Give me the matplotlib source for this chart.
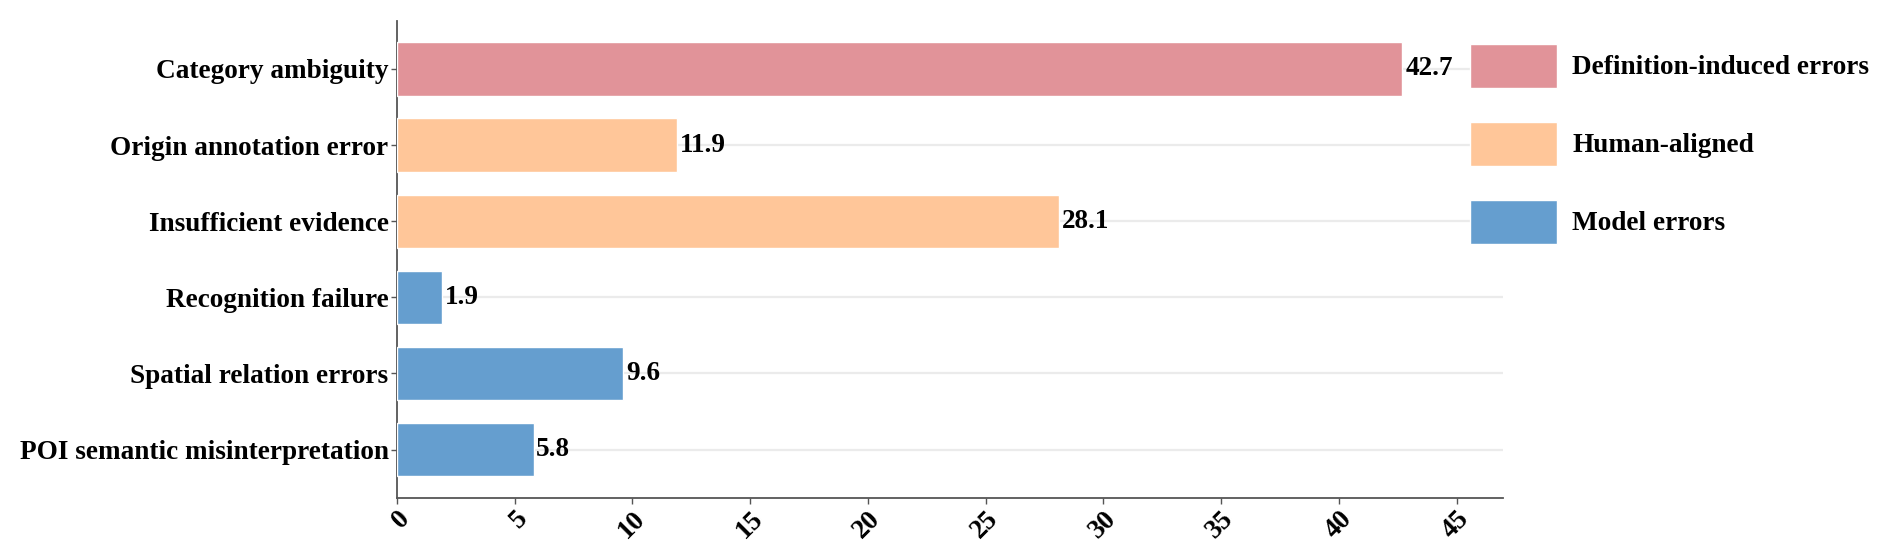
import matplotlib
matplotlib.use("Agg")
import matplotlib.pyplot as plt
from matplotlib.patches import Patch

categories = ["Category ambiguity", "Origin annotation error", "Insufficient evidence",
              "Recognition failure", "Spatial relation errors", "POI semantic misinterpretation"]
values = [42.7, 11.9, 28.1, 1.9, 9.6, 5.8]
groups = ["Definition-induced errors", "Human-aligned", "Human-aligned",
          "Model errors", "Model errors", "Model errors"]
group_names = ["Definition-induced errors", "Human-aligned", "Model errors"]
group_colors = {"Definition-induced errors": "#E19399",
                "Human-aligned": "#FFC699",
                "Model errors": "#659ECF"}
x_ticks = [0, 5, 10, 15, 20, 25, 30, 35, 40, 45]

plt.rcParams["font.family"] = ["Liberation Serif", "DejaVu Serif"]
plt.rcParams["font.weight"] = "bold"
FS = 19.6

fig = plt.figure(figsize=(18.92, 5.59), dpi=100)
ax = fig.add_axes([0.2098, 0.1091, 0.7944 - 0.2098, 0.9633 - 0.1091])

y = list(range(len(categories)))
bars = ax.barh(y, values, height=0.7,
               color=[group_colors[g] for g in groups],
               edgecolor="white", linewidth=1, zorder=3)
ax.bar_label(bars, labels=[f"{v:.1f}" for v in values], padding=2,
             fontsize=FS, fontweight="bold", color="black")

ax.set_yticks(y)
ax.set_yticklabels(categories, fontsize=FS, fontweight="bold")
ax.invert_yaxis()
ax.set_xticks(x_ticks)
ax.set_xticklabels([str(t) for t in x_ticks], fontsize=FS, fontweight="bold",
                   rotation=45, ha="right", rotation_mode="anchor")
ax.set_xlim(0, max(values) * 1.1)

ax.grid(axis="y", color="#EBEBEB", linewidth=1.6, zorder=0)
ax.set_axisbelow(True)
for side in ["top", "right"]:
    ax.spines[side].set_visible(False)
for side in ["left", "bottom"]:
    ax.spines[side].set_color("#555555")
    ax.spines[side].set_linewidth(1.3)
ax.tick_params(axis="both", length=4, width=1, color="#555555", pad=2)

handles = [Patch(facecolor=group_colors[g], edgecolor="white", label=g) for g in group_names]
fig.legend(handles=handles, loc="upper left", bbox_to_anchor=(1470 / 1892, 1 - 44 / 559),
           frameon=False, prop={"weight": "bold", "size": FS},
           handlelength=3.2, handleheight=2.1, handletextpad=0.55,
           labelspacing=1.25, borderpad=0, borderaxespad=0)

fig.savefig("out.png", dpi=100)
